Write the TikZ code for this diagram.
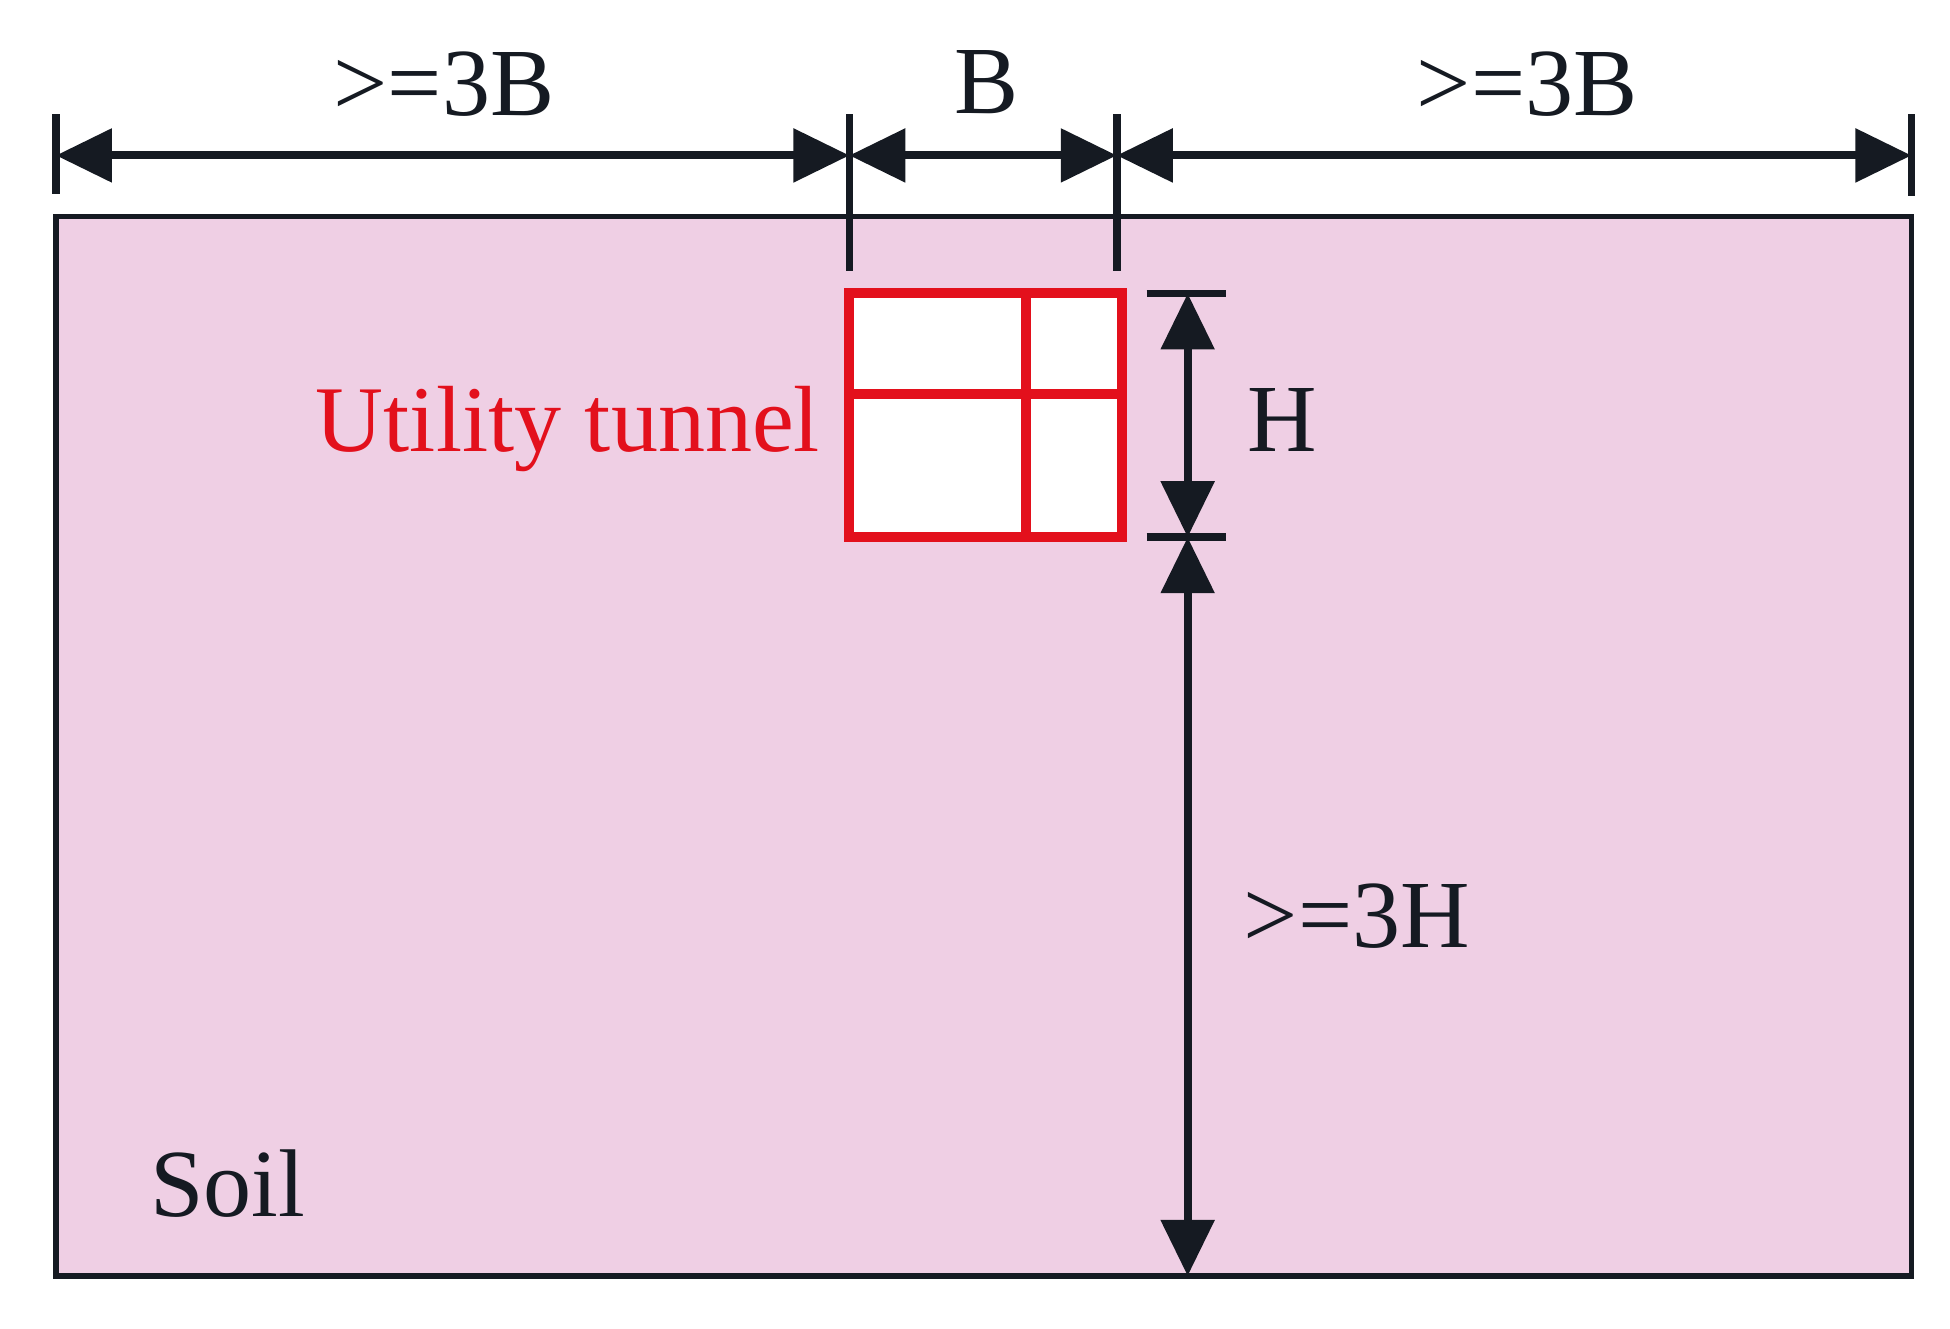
\documentclass[tikz,border=0pt]{standalone}
\usepackage{fontspec}
\setmainfont{Liberation Serif}
\usetikzlibrary{arrows.meta}
\definecolor{soil}{HTML}{EFCFE4}
\definecolor{ink}{HTML}{151A22}
\definecolor{tred}{HTML}{E3101C}
\begin{document}
\begin{tikzpicture}[x=0.01cm,y=-0.01cm,
  dim/.style={draw=ink,line width=0.065cm,{Triangle[length=0.45cm,width=0.42cm]}-{Triangle[length=0.45cm,width=0.42cm]}},
  tick/.style={draw=ink,line width=0.06cm},
  lbl/.style={font=\fontsize{22}{26}\selectfont,text=ink,inner sep=0}]
\useasboundingbox (0,0) rectangle (1568,1068);
\draw[fill=soil,draw=ink,line width=0.045cm] (45,174) rectangle (1537,1026);
\draw[fill=white,draw=tred,line width=0.08cm] (683,236) rectangle (902,432);
\draw[draw=tred,line width=0.08cm] (825,236) -- (825,432) (683,317) -- (902,317);
% ticks
\coordinate (t1) at (45,125); \coordinate (t2) at (683,125);
\coordinate (t3) at (898,125); \coordinate (t4) at (1537,125);
\draw[tick] (45,92) -- (45,156);
\draw[tick] (683,92) -- (683,218);
\draw[tick] (898,92) -- (898,218);
\draw[tick] (1537,92) -- (1537,158);
\draw[dim] (t1) -- (t2);
\draw[dim] (t2) -- (t3);
\draw[dim] (t3) -- (t4);
\coordinate (v1) at (955,236); \coordinate (v2) at (955,432); \coordinate (v3) at (955,1026);
\draw[tick] (922,236) -- (986,236);
\draw[tick] (922,432) -- (986,432);
\draw[dim] (v1) -- (v2);
\draw[dim] (v2) -- (v3);
\node[lbl] (l1) at (357,68) {>=3B};
\node[lbl] (l2) at (793,66) {B};
\node[lbl] (l3) at (1228,68) {>=3B};
\node[lbl] (lh) at (1031,338) {H};
\node[lbl] (l3h) at (1091,737) {>=3H};
\node[lbl,text=tred,anchor=east,font=\fontsize{21.5}{26}\selectfont] (ut) at (660,345) {Utility tunnel};
\node[lbl] (soil) at (183,952) {Soil};
\end{tikzpicture}
\end{document}
